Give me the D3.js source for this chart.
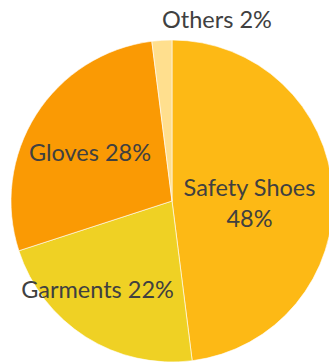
<!DOCTYPE html>
<html><head><meta charset="utf-8">
<script src="https://cdn.jsdelivr.net/npm/d3@7"></script>
<style>html,body{margin:0;padding:0;background:#fff;overflow:hidden}</style>
</head><body>
<svg id="c" width="329" height="362"></svg>
<script>
const categories = ["Safety Shoes", "Garments", "Gloves", "Others"];
const values = [48, 22, 28, 2];
const colors = ["#FDB915", "#EFD124", "#FA9A04", "#FFDF8E"];
const labelPos = [[249.5, 195.5, 226.5], [97.5, 298], [90, 160.5], [217, 28]];

const svg = d3.select("#c");
const cx = 172, cy = 201, r = 161;
const pie = d3.pie().sort(null).value(d => d)(values);
const arc = d3.arc().innerRadius(0).outerRadius(r);
const g = svg.append("g").attr("transform", `translate(${cx},${cy})`);
g.selectAll("path").data(pie).join("path")
  .attr("d", arc)
  .attr("fill", (d, i) => colors[i])
  .attr("stroke", "#fff").attr("stroke-width", 0.6);

const font = "Lato, 'Open Sans', sans-serif";
categories.forEach((c, i) => {
  const p = labelPos[i];
  const t = svg.append("text").attr("text-anchor", "middle")
    .attr("font-family", font).attr("font-size", 23.5).attr("fill", "#404040");
  if (p.length === 3) {
    t.append("tspan").attr("x", p[0]).attr("y", p[1]).text(c);
    t.append("tspan").attr("x", p[0]).attr("y", p[2]).text(values[i] + "%");
  } else {
    t.attr("x", p[0]).attr("y", p[1]).text(c + " " + values[i] + "%");
  }
});
</script>
</body></html>
